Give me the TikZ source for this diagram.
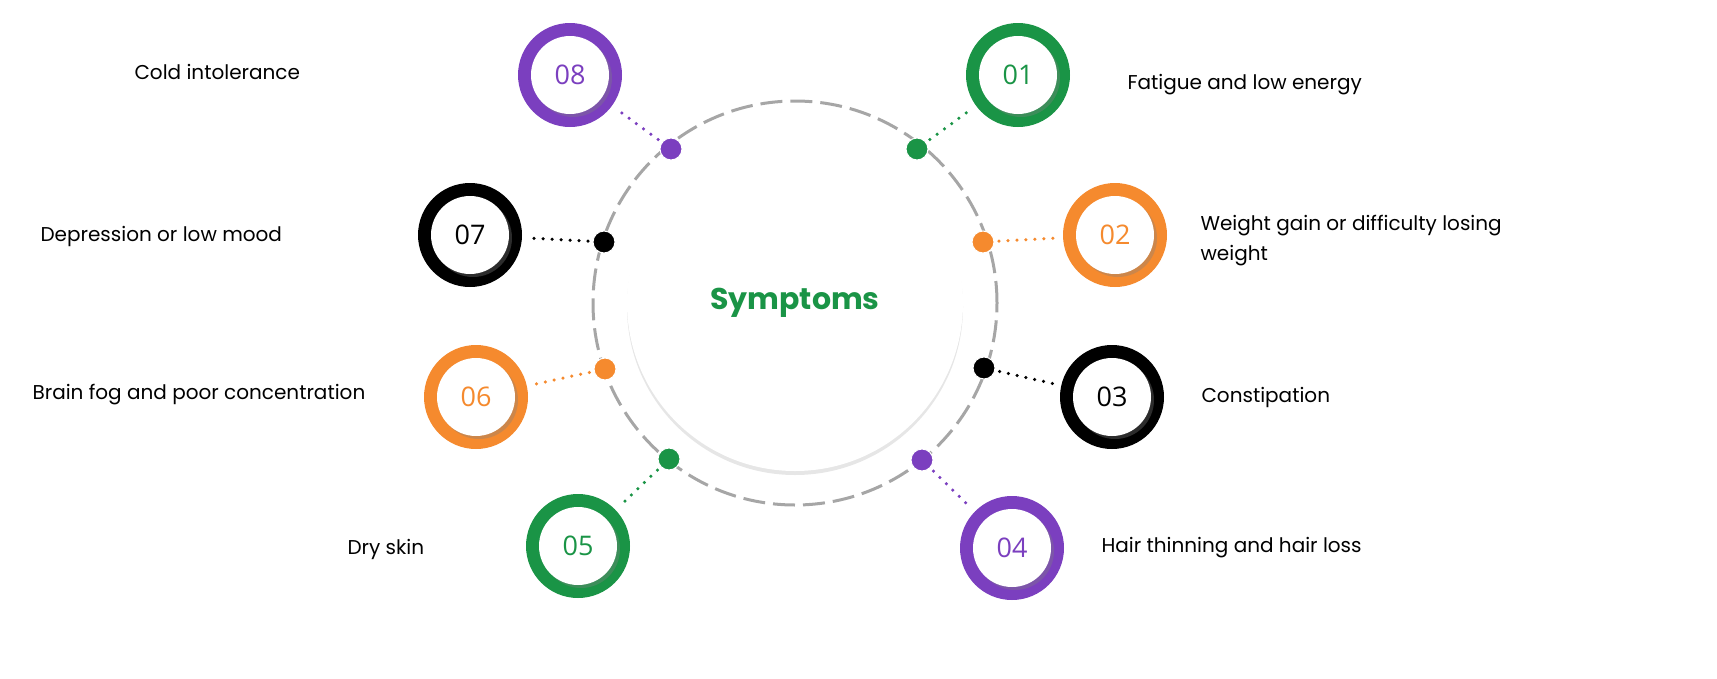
\documentclass[tikz,border=0pt]{standalone}
\usepackage{fontspec}
\setmainfont{Poppins}
\newfontfamily\numfont{Open Sans}
\usetikzlibrary{shadows,calc}
\definecolor{cg}{HTML}{1A9446}
\definecolor{co}{HTML}{F58A2E}
\definecolor{cp}{HTML}{7B3FBF}
\definecolor{ck}{HTML}{000000}
\begin{document}
\begin{tikzpicture}[x=1pt,y=-1pt,
  ring/.style={circle,fill=#1,minimum size=104pt,inner sep=0pt},
  core/.style={circle,fill=white,minimum size=78pt,inner sep=0pt,text=#1,font=\numfont\fontsize{27}{27}\selectfont,
     drop shadow={shadow xshift=3pt,shadow yshift=-3pt,opacity=0.35,fill=gray}},
  dot/.style={circle,fill=#1,draw=white,line width=1pt,minimum size=22pt,inner sep=0pt},
  conn/.style={draw=#1,line width=3.5pt,line cap=round,dash pattern=on 0pt off 9pt},
  lbl/.style={anchor=west,font=\fontsize{20}{30}\selectfont,align=left}]
\path (0,0) rectangle (1717,678);
\begin{scope}[overlay]
\node[circle,minimum size=336pt,fill=white,drop shadow={shadow xshift=0pt,shadow yshift=-4pt,opacity=0.2,fill=gray}] (c) at (795,303) {};
\node[font=\bfseries\fontsize{30}{30}\selectfont,text=cg] at (c) {Symptoms};
\draw[gray!70,line width=3pt,dash pattern=on 22pt off 8pt] (c.center) circle (202pt);
\foreach \n/\col/\rx/\ry/\dx/\dy in {01/cg/1018/75/917/149, 02/co/1115/235/983/242, 03/ck/1112/397/984/368, 04/cp/1012/548/922/460, 05/cg/578/546/669/459, 06/co/476/397/605/369, 07/ck/470/235/604/242, 08/cp/570/75/671/149}{
  \node[ring=\col] (r\n) at (\rx,\ry) {};
  \node[core=\col] (k\n) at (\rx,\ry) {\n};
  \node[dot=\col] (d\n) at (\dx,\dy) {};
  \path[conn=\col] ($(d\n)!16pt!(r\n)$) -- ($(r\n)!60pt!(d\n)$);
}
\node[lbl] (t1) at (1124,85) {Fatigue and low energy};
\node[lbl] (t2) at (1197,241) {Weight gain or difficulty losing\\weight};
\node[lbl] (t3) at (1198,397) {Constipation};
\node[lbl] (t4) at (1098,548) {Hair thinning and hair loss};
\node[lbl] (t5) at (344,549) {Dry skin};
\node[lbl] (t6) at (29,395) {Brain fog and poor concentration};
\node[lbl] (t7) at (37,236) {Depression or low mood};
\node[lbl] (t8) at (131,72) {Cold intolerance};
\end{scope}
\end{tikzpicture}
\end{document}
